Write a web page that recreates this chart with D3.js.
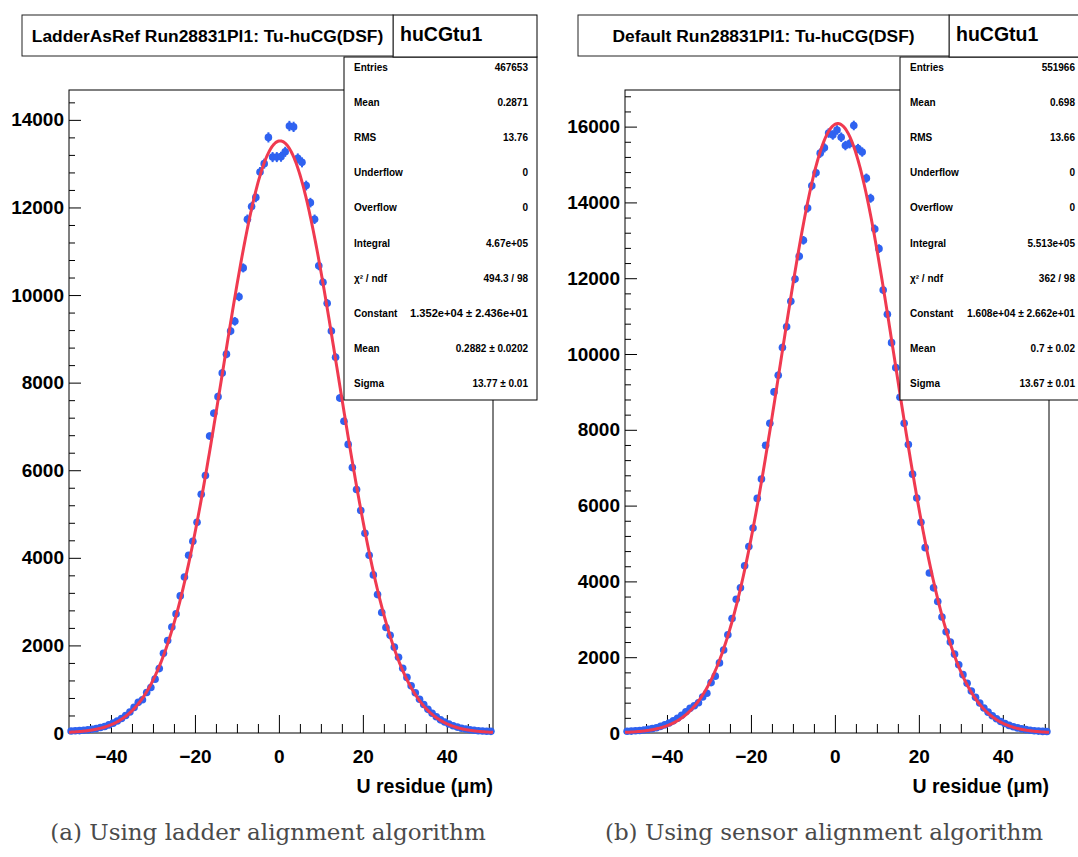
<!DOCTYPE html>
<html><head><meta charset="utf-8">
<script src="https://cdn.jsdelivr.net/npm/d3@7"></script>
<style>body{margin:0;background:#fff}svg{display:block}</style>
</head><body>
<svg id="c" width="1078" height="857"></svg>
<script>
// ---------- data ----------
const binCenters = [-49.5,-48.5,-47.5,-46.5,-45.5,-44.5,-43.5,-42.5,-41.5,-40.5,-39.5,-38.5,-37.5,-36.5,-35.5,-34.5,-33.5,-32.5,-31.5,-30.5,-29.5,-28.5,-27.5,-26.5,-25.5,-24.5,-23.5,-22.5,-21.5,-20.5,-19.5,-18.5,-17.5,-16.5,-15.5,-14.5,-13.5,-12.5,-11.5,-10.5,-9.5,-8.5,-7.5,-6.5,-5.5,-4.5,-3.5,-2.5,-1.5,-0.5,0.5,1.5,2.5,3.5,4.5,5.5,6.5,7.5,8.5,9.5,10.5,11.5,12.5,13.5,14.5,15.5,16.5,17.5,18.5,19.5,20.5,21.5,22.5,23.5,24.5,25.5,26.5,27.5,28.5,29.5,30.5,31.5,32.5,33.5,34.5,35.5,36.5,37.5,38.5,39.5,40.5,41.5,42.5,43.5,44.5,45.5,46.5,47.5,48.5,49.5,50.5];

const countsLadder = [45,50,55,62,72,85,100,125,150,185,225,275,330,400,480,585,700,760,925,1040,1230,1470,1820,2110,2420,2720,3130,3560,4060,4380,4810,5450,5880,6780,7300,7680,8220,8650,9180,9400,9960,10620,11730,12020,12230,12810,13000,13600,13150,13150,13160,13270,13860,13840,13120,13030,12500,12110,11730,10670,10290,9810,9180,8580,7650,7120,6590,6060,5560,5080,4560,4060,3610,3160,2750,2410,2230,1960,1730,1480,1270,1080,920,770,650,540,450,370,300,250,205,165,135,110,90,75,62,52,45,40,38];

const countsSensor = [45,50,58,66,78,95,115,140,175,215,265,320,390,470,560,650,720,800,950,1050,1330,1500,1850,2190,2590,3020,3530,3830,4410,4920,5410,6190,6700,7590,8170,9000,9440,10170,10720,11390,11980,12580,13000,13850,14440,14780,15300,15440,15830,15780,15910,15720,15500,15550,16030,15420,15330,14640,14110,13300,12780,11690,11050,10300,9640,8860,8170,7610,6830,6200,5560,4890,4220,3830,3470,3060,2670,2400,2080,1800,1540,1310,1110,940,790,660,550,455,375,305,250,200,165,135,110,90,72,60,50,42,38];

const xDomain = [-50, 51];
const xMajorTicks = [-40,-20,0,20,40];
const xMinorTicks = [-45,-35,-30,-25,-15,-10,-5,5,10,15,25,30,35,45,50];
const yMajorLadder = [0,2000,4000,6000,8000,10000,12000,14000];
const yMajorSensor = [0,2000,4000,6000,8000,10000,12000,14000,16000];
const yMaxLadder = 14682;
const yMaxSensor = 16966;

const titleLadder = "LadderAsRef Run28831Pl1: Tu-huCG(DSF)";
const titleSensor = "Default Run28831Pl1: Tu-huCG(DSF)";
const histName = "huCGtu1";
const xTitle = "U residue (μm)";
const statLabels = ["Entries","Mean","RMS","Underflow","Overflow","Integral","χ² / ndf","Constant","Mean","Sigma"];
const statLadder = ["467653","0.2871","13.76","0","0","4.67e+05","494.3 / 98","1.352e+04 ± 2.436e+01","0.2882 ± 0.0202","13.77 ± 0.01"];
const statSensor = ["551966","0.698","13.66","0","0","5.513e+05","362 / 98","1.608e+04 ± 2.662e+01","0.7 ± 0.02","13.67 ± 0.01"];
const fitLadder = [13520, 0.2882, 13.77];   // Constant, Mean, Sigma
const fitSensor = [16080, 0.7, 13.67];
const captions = ["(a) Using ladder alignment algorithm", "(b) Using sensor alignment algorithm"];

// ---------- drawing ----------
const svg = d3.select("#c");
const FONT = "'Liberation Sans', Arial, Helvetica, sans-serif";
const BLUE = "#2f62f0", RED = "#f03a50";

function panel(dx, counts, yMax, yMajor, title, stats, fit, caption, valueRight, longLen) {
  const g = svg.append("g");
  const x = d3.scaleLinear().domain(xDomain).range([69 + dx, 493 + dx]);
  const y = d3.scaleLinear().domain([0, yMax]).range([733, 90]);

  g.append("rect").attr("x", x.range()[0]).attr("y", 90)
    .attr("width", x.range()[1] - x.range()[0]).attr("height", 733 - 90)
    .attr("fill", "none").attr("stroke", "#000").attr("stroke-width", 1);

  const yMinor = d3.range(0, yMax, 400).filter(v => v % 2000 !== 0);
  const yMin = g.append("g").attr("transform", `translate(${x.range()[0]},0)`)
    .call(d3.axisLeft(y).tickValues(yMinor).tickSize(-6).tickFormat(""));
  yMin.select(".domain").remove();
  const yAx = g.append("g").attr("transform", `translate(${x.range()[0]},0)`)
    .call(d3.axisLeft(y).tickValues(yMajor).tickSize(-12).tickPadding(5).tickFormat(d3.format("d")));
  yAx.select(".domain").remove();
  yAx.selectAll("text").attr("font-family", FONT).attr("font-weight", "bold").attr("font-size", 19).attr("fill", "#000");

  const xMin = g.append("g").attr("transform", `translate(0,733)`)
    .call(d3.axisBottom(x).tickValues(xMinorTicks).tickSize(-9).tickFormat(""));
  xMin.select(".domain").remove();
  const xAx = g.append("g").attr("transform", `translate(0,733)`)
    .call(d3.axisBottom(x).tickValues(xMajorTicks).tickSize(-18).tickPadding(17));
  xAx.select(".domain").remove();
  xAx.selectAll("text").attr("font-family", FONT).attr("font-weight", "bold").attr("font-size", 19).attr("fill", "#000");
  g.selectAll(".tick line").attr("stroke", "#000");

  g.append("text").attr("x", x.range()[1]).attr("y", 793).attr("text-anchor", "end")
    .attr("font-family", FONT).attr("font-weight", "bold").attr("font-size", 19.5).text(xTitle);

  const pts = g.append("g");
  binCenters.forEach((c, i) => {
    const v = counts[i], e = Math.sqrt(v);
    pts.append("line").attr("x1", x(c)).attr("x2", x(c)).attr("y1", y(v - e)).attr("y2", y(v + e))
      .attr("stroke", BLUE).attr("stroke-width", 2);
    pts.append("line").attr("x1", x(c - 0.5)).attr("x2", x(c + 0.5)).attr("y1", y(v)).attr("y2", y(v))
      .attr("stroke", BLUE).attr("stroke-width", 2);
    pts.append("circle").attr("cx", x(c)).attr("cy", y(v)).attr("r", 3.8).attr("fill", BLUE);
  });

  const [A, mu, s] = fit;
  const xs = d3.range(xDomain[0], xDomain[1] + 0.001, 0.2);
  g.append("path").datum(xs)
    .attr("d", d3.line().x(d => x(d)).y(d => y(A * Math.exp(-0.5 * ((d - mu) / s) ** 2))))
    .attr("fill", "none").attr("stroke", RED).attr("stroke-width", 3);

  const sbX = 344 + dx, sbW = 193;
  g.append("rect").attr("x", sbX).attr("y", 57).attr("width", sbW).attr("height", 343)
    .attr("fill", "#fff").attr("stroke", "#000");
  g.append("rect").attr("x", 393 + dx).attr("y", 15).attr("width", sbX + sbW - 393 - dx).attr("height", 42)
    .attr("fill", "#fff").attr("stroke", "#000");
  g.append("text").attr("x", 400 + dx).attr("y", 41).attr("font-family", FONT)
    .attr("font-weight", "bold").attr("font-size", 19.5).text(histName);
  statLabels.forEach((lab, i) => {
    const yy = 71 + i * 35.1;
    g.append("text").attr("x", 354 + dx).attr("y", yy).attr("font-family", FONT)
      .attr("font-weight", "bold").attr("font-size", 10).text(lab);
    const t = g.append("text").attr("x", valueRight).attr("y", yy).attr("text-anchor", "end").attr("font-family", FONT)
      .attr("font-weight", "bold").attr("font-size", 10).text(stats[i]);
    if (stats[i].length > 16) t.attr("textLength", longLen).attr("lengthAdjust", "spacingAndGlyphs");
  });

  g.append("rect").attr("x", 22 + dx).attr("y", 15).attr("width", 371).attr("height", 41)
    .attr("fill", "#fff").attr("stroke", "#222");
  g.append("text").attr("x", 207.5 + dx).attr("y", 41.5).attr("text-anchor", "middle")
    .attr("font-family", FONT).attr("font-weight", "bold").attr("font-size", 17.4).text(title);

  svg.append("text").attr("x", 268 + dx).attr("y", 840).attr("text-anchor", "middle")
    .attr("font-family", "'DejaVu Serif', 'Liberation Serif', serif").attr("font-size", 23)
    .attr("fill", "#4a4a4a").text(caption);
}

panel(0, countsLadder, yMaxLadder, yMajorLadder, titleLadder, statLadder, fitLadder, captions[0], 528, 118);
panel(556, countsSensor, yMaxSensor, yMajorSensor, titleSensor, statSensor, fitSensor, captions[1], 1075, 108);
</script>
</body></html>
